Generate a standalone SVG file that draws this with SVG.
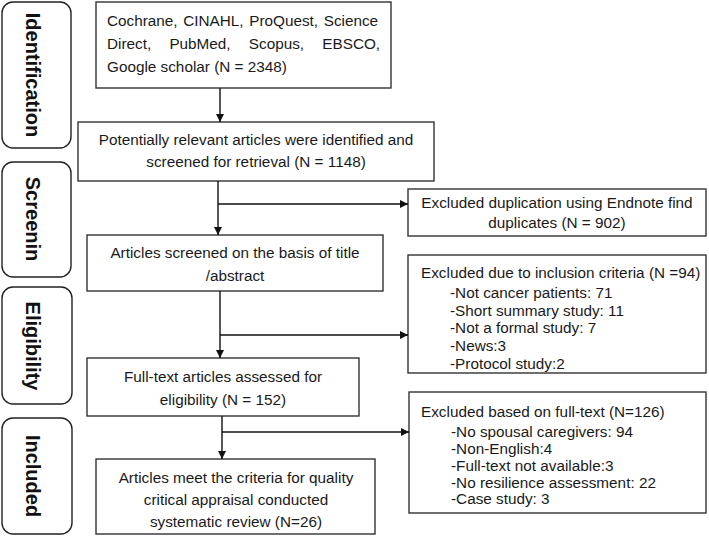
<svg xmlns="http://www.w3.org/2000/svg" width="709" height="536" viewBox="0 0 709 536">
<defs>
<marker id="ah" viewBox="0 0 10 10" refX="10" refY="5" markerWidth="8" markerHeight="8" markerUnits="userSpaceOnUse" orient="auto">
<path d="M0,0 L10,5 L0,10 z" fill="#111"/>
</marker>
<style>
.box{fill:#fff;stroke:#333;stroke-width:1.4}
.side{fill:#fff;stroke:#222;stroke-width:1.4}
.t{font-family:"Liberation Sans",Arial,sans-serif;font-size:15.3px;fill:#1a1a1a}
.c{text-anchor:middle}
.lab{font-family:"Liberation Sans",Arial,sans-serif;font-size:20px;font-weight:bold;fill:#111;text-anchor:middle}
.ln{fill:none;stroke:#111;stroke-width:1.4}
</style>
</defs>
<rect width="709" height="536" fill="#fff"/>

<g id="stage-identification">
<rect class="side" x="2" y="2" width="69" height="146" rx="11"/>
<text class="lab" transform="translate(26,75) rotate(90)">Identification</text>
</g>
<g id="stage-screening">
<rect class="side" x="2" y="162" width="69" height="115" rx="11"/>
<text class="lab" transform="translate(26,219) rotate(90)">Screenin</text>
</g>
<g id="stage-eligibility">
<rect class="side" x="2" y="287" width="70" height="117" rx="11"/>
<text class="lab" transform="translate(26,346) rotate(90)">Eligibility</text>
</g>
<g id="stage-included">
<rect class="side" x="2" y="418" width="70" height="116" rx="11"/>
<text class="lab" transform="translate(26,476) rotate(90)">Included</text>
</g>

<g id="n-databases">
<rect class="box" x="96" y="2" width="295" height="86"/>
<text class="t" y="26"><tspan x="107">Cochrane,</tspan><tspan x="183.2">CINAHL,</tspan><tspan x="249.2">ProQuest,</tspan><tspan x="323.7">Science</tspan></text>
<text class="t" y="49"><tspan x="107">Direct,</tspan><tspan x="169.4">PubMed,</tspan><tspan x="248.8">Scopus,</tspan><tspan x="322.3">EBSCO,</tspan></text>
<text class="t" x="107" y="72">Google scholar (N = 2348)</text>
</g>

<g id="n-potential">
<rect class="box" x="78" y="122" width="356" height="59"/>
<text class="t c" x="256" y="145">Potentially relevant articles were identified and</text>
<text class="t c" x="256" y="167">screened for retrieval (N = 1148)</text>
</g>

<g id="n-duplicates">
<rect class="box" x="408" y="189" width="298" height="47"/>
<text class="t c" x="557" y="208">Excluded duplication using Endnote find</text>
<text class="t c" x="557" y="228">duplicates (N = 902)</text>
</g>

<g id="n-title">
<rect class="box" x="87" y="235" width="296" height="56"/>
<text class="t c" x="235" y="258">Articles screened on the basis of title</text>
<text class="t c" x="235" y="281">/abstract</text>
</g>

<g id="n-inclusion">
<rect class="box" x="408" y="255" width="298" height="118"/>
<text class="t" x="421" y="278">Excluded due to inclusion criteria (N =94)</text>
<text class="t" x="450" y="298">-Not cancer patients: 71</text>
<text class="t" x="450" y="316">-Short summary study: 11</text>
<text class="t" x="450" y="333">-Not a formal study: 7</text>
<text class="t" x="450" y="351">-News:3</text>
<text class="t" x="450" y="369">-Protocol study:2</text>
</g>

<g id="n-fulltext">
<rect class="box" x="87" y="358" width="272" height="58"/>
<text class="t c" x="223" y="382">Full-text articles assessed for</text>
<text class="t c" x="223" y="405">eligibility (N = 152)</text>
</g>

<g id="n-excluded-fulltext">
<rect class="box" x="409" y="392" width="297" height="121"/>
<text class="t" x="421" y="417">Excluded based on full-text (N=126)</text>
<text class="t" x="451" y="437">-No spousal caregivers: 94</text>
<text class="t" x="451" y="454">-Non-English:4</text>
<text class="t" x="451" y="471">-Full-text not available:3</text>
<text class="t" x="451" y="488">-No resilience assessment: 22</text>
<text class="t" x="451" y="504">-Case study: 3</text>
</g>

<g id="n-included">
<rect class="box" x="96" y="459" width="279" height="75"/>
<text class="t c" x="236" y="483">Articles meet the criteria for quality</text>
<text class="t c" x="236" y="505">critical appraisal conducted</text>
<text class="t c" x="236" y="527">systematic review (N=26)</text>
</g>

<g id="connectors">
<line class="ln" x1="220" y1="88" x2="220" y2="122" marker-end="url(#ah)"/>
<line class="ln" x1="218" y1="181" x2="218" y2="235" marker-end="url(#ah)"/>
<line class="ln" x1="218" y1="204" x2="408" y2="204" marker-end="url(#ah)"/>
<line class="ln" x1="220" y1="291" x2="220" y2="358" marker-end="url(#ah)"/>
<line class="ln" x1="220" y1="335" x2="408" y2="335" marker-end="url(#ah)"/>
<line class="ln" x1="222" y1="416" x2="222" y2="459" marker-end="url(#ah)"/>
<line class="ln" x1="222" y1="432" x2="409" y2="432" marker-end="url(#ah)"/>
</g>
</svg>
